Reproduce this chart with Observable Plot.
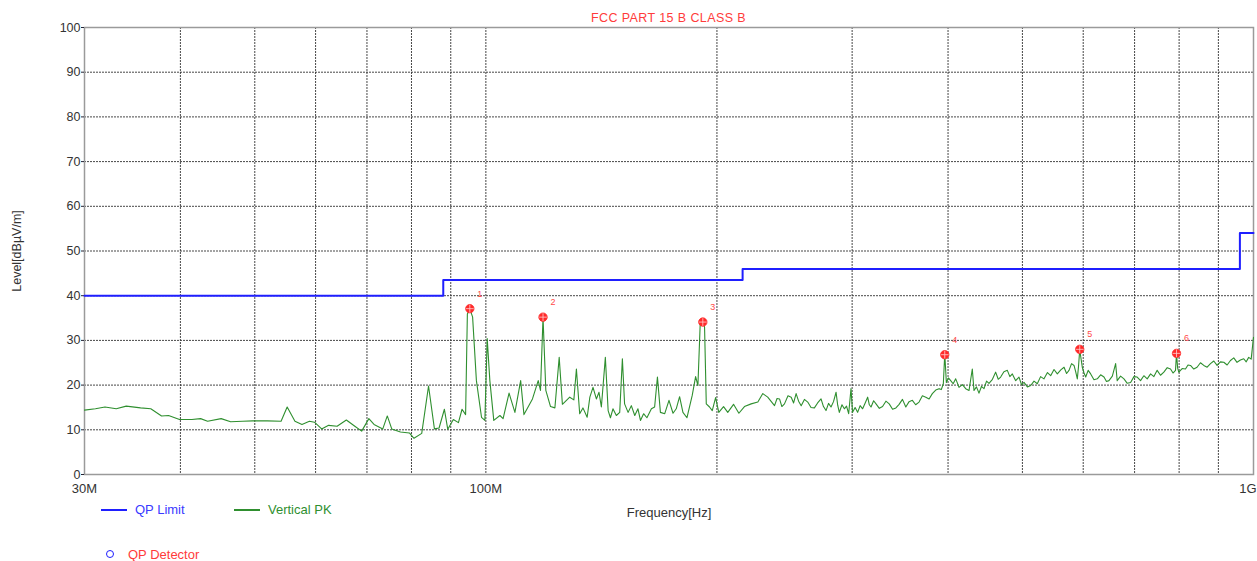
<!DOCTYPE html>
<html>
<head>
<meta charset="utf-8">
<script src="https://cdn.jsdelivr.net/npm/d3@7"></script>
<script src="https://cdn.jsdelivr.net/npm/@observablehq/plot@0.6"></script>
<style>
  body { margin: 0; background: #fff; font-family: "Liberation Sans", Arial, sans-serif; }
  #wrap { position: relative; width: 1257px; height: 561px; overflow: hidden; background: #fff; }
  #wrap svg { position: absolute; left: 0; top: 0; }
  .ov { position: absolute; white-space: nowrap; font-size: 13px; line-height: 1; }
  .lg-line { position: absolute; height: 2px; }
</style>
</head>
<body>
<div id="wrap"></div>
<script>
// ---- data (frequency in MHz, level in dBµV/m) ----
const pkFreq = [
  30.0, 31.0, 31.9, 33.0, 34.0, 35.5, 36.6, 37.8, 38.6, 39.9, 41.4, 42.5, 43.4, 45.2, 46.5, 48.2, 49.7,
  51.9, 54.1, 55.1, 56.4, 57.6, 58.9, 59.8, 61.1, 62.4, 64.0, 65.8, 67.5, 68.9, 70.4, 71.5, 73.4, 74.4,
  75.4, 77.4, 79.5, 80.6, 82.5, 84.2, 85.7, 86.9, 88.3, 89.2, 90.7, 92.1, 93.1, 94.1,
  94.6, 95.3, 96.1, 97.2, 98.7, 99.7, 100.4, 101.2, 102.4, 104.3, 105.3, 107.2, 109.1, 111.0, 112.1,
  113.5, 115.0, 117.0, 117.8, 118.7, 119.7, 121.4, 123.0, 124.6, 125.8, 128.6, 130.2, 131.2, 132.5,
  133.8, 135.5, 136.6, 137.9, 139.3, 140.4, 141.4, 143.1, 144.3, 145.3, 146.4, 147.9, 149.4, 150.6,
  151.6, 153.2, 154.7, 156.3, 157.8, 159.0, 160.5, 162.1, 164.3, 165.9, 167.3, 168.8, 171.0, 173.2,
  175.3, 177.0, 178.8, 180.6, 182.8, 185.7, 187.6, 188.9, 190.2, 191.7, 192.7, 193.7, 195.6, 197.2,
  199.2, 201.1, 204.0, 206.6, 210.2, 213.6, 217.2, 221.6, 226.1, 229.5, 232.9,
  237.7, 239.5, 241.3, 243.0, 244.9, 247.5, 249.9, 251.7, 253.6, 255.5, 257.5, 260.0, 262.6, 265.2,
  267.9, 270.5, 273.3, 275.3, 277.4, 279.5, 281.6, 283.7, 285.9, 287.3, 288.7, 291.0, 293.1, 295.0,
  296.9, 299.0, 300.4, 302.7, 305.0, 307.3, 309.6, 312.0, 314.3, 315.9, 317.5, 320.0, 322.3, 325.5,
  328.7, 332.0, 335.3, 338.7, 342.1,
  345.4, 348.9, 352.4, 355.9, 359.4, 363.0, 366.7, 370.4, 374.2, 377.9, 381.6, 385.5, 389.4, 392.0,
  394.4, 396.1, 398.0, 400.5, 403.2, 406.2, 409.3, 411.3, 413.4, 417.6, 421.8, 426.0, 430.2, 432.4,
  435.6, 438.9, 442.2, 445.6, 449.0, 452.3, 457.0, 461.4, 465.0, 468.4, 473.0, 477.9, 481.5, 485.1,
  490.0, 494.9, 498.6, 502.4, 507.5, 512.6, 517.7, 522.8, 528.0, 533.4, 539.0, 544.2, 549.7, 555.2,
  561.0, 566.5, 570.8, 575.0, 579.4, 583.7, 586.6, 589.5, 591.5, 593.8, 596.0, 598.4, 601.5, 604.5,
  609.0, 613.6, 619.7, 625.9, 632.2, 638.6, 643.4, 648.2, 654.8, 661.3, 664.4, 671.2, 678.0, 684.8,
  691.7, 698.6, 705.5, 712.6, 719.7, 727.0, 734.4, 741.7, 749.0, 756.6, 764.2, 772.0, 779.7, 785.5,
  791.4, 793.8, 796.5, 799.3, 807.3, 815.4, 821.6, 827.8, 836.0, 844.3, 852.9, 861.5, 870.2, 878.9,
  887.7, 896.5, 905.6, 914.7, 924.0, 933.2, 942.5, 951.8, 961.5, 971.1, 978.4, 985.7, 993.0, 1000
];
const pkLevel = [
  14.4, 14.7, 15.1, 14.7, 15.3, 14.9, 14.7, 13.1, 13.2, 12.3, 12.3, 12.5, 11.9, 12.5, 11.8, 11.9, 12.0,
  12.0, 11.9, 15.1, 11.9, 11.2, 11.9, 11.7, 10.2, 11.0, 10.8, 12.2, 10.8, 9.7, 12.5, 11.2, 10.2, 13.1,
  10.2, 9.5, 9.3, 8.1, 9.2, 19.8, 10.2, 10.4, 14.6, 10.1, 12.3, 11.6, 14.6, 13.4,
  35.9, 37.1, 35.2, 21.0, 12.8, 12.1, 30.4, 21.0, 12.1, 13.2, 12.5, 18.2, 13.9, 21.0, 13.4,
  15.1, 16.9, 21.0, 18.8, 35.2, 18.8, 15.2, 14.9, 26.2, 15.7, 17.3, 16.7, 23.6, 13.6,
  14.9, 12.8, 17.3, 19.5, 16.9, 18.4, 15.1, 26.2, 14.3, 12.7, 14.7, 13.2, 13.9, 25.9,
  15.8, 13.9, 15.4, 13.2, 14.7, 12.1, 13.6, 12.7, 14.7, 15.1, 21.8, 13.9, 13.6, 16.6,
  13.7, 14.7, 17.4, 13.9, 12.7, 17.7, 21.9, 19.9, 33.7, 34.1, 33.0, 15.8, 15.1, 14.3,
  17.2, 13.9, 15.2, 13.9, 15.7, 13.7, 15.2, 15.8, 16.2, 18.1, 17.3,
  15.4, 17.0, 16.9, 15.2, 15.8, 17.6, 17.3, 16.0, 18.1, 16.4, 15.4, 16.8, 16.2, 15.0,
  14.9, 16.0, 16.9, 15.2, 14.3, 15.9, 15.1, 16.3, 18.4, 15.5, 13.9, 15.6, 14.7, 15.3,
  13.6, 19.2, 13.9, 15.0, 13.9, 15.4, 14.7, 16.0, 17.3, 15.6, 15.1, 16.5, 15.8, 14.8,
  15.2, 16.4, 15.8, 14.6, 14.9,
  15.7, 16.8, 15.1, 16.3, 16.6, 15.6, 16.2, 17.6, 17.3, 16.9, 18.1, 18.9, 19.2, 19.0,
  20.3, 27.0, 20.6, 21.6, 21.0, 20.3, 21.4, 20.5, 19.5, 20.1, 19.2, 18.8, 23.6, 18.8,
  19.6, 18.2, 19.7, 19.2, 20.9, 20.4, 21.3, 22.9, 21.3, 21.8, 23.0, 23.3, 21.9, 22.5,
  21.0, 21.8, 20.1, 20.6, 19.6, 19.9, 20.9, 20.3, 21.9, 21.4, 22.8, 22.1, 23.5, 22.5,
  23.4, 24.0, 22.6, 23.3, 24.8, 24.4, 23.0, 21.4, 24.0, 27.9, 26.0, 24.0, 22.7, 21.8,
  23.3, 22.5, 21.2, 21.4, 22.3, 21.8, 20.8, 21.0, 22.0, 24.8, 21.0, 22.0, 21.4, 20.4,
  20.6, 21.9, 21.8, 21.0, 22.1, 21.4, 22.5, 21.9, 23.3, 22.2, 22.9, 23.9, 23.6, 22.7,
  23.3, 27.1, 23.8, 22.9, 23.7, 23.6, 24.5, 24.4, 23.6, 24.0, 25.0, 24.4, 24.0, 24.8,
  25.4, 24.4, 25.2, 25.1, 24.5, 25.5, 26.1, 25.1, 25.6, 25.9, 25.2, 26.2, 25.8, 30.7
];

// QP limit (FCC Part 15 B Class B)
const limitFreq  = [30, 88, 88, 216, 216, 960, 960, 1000];
const limitLevel = [40, 40, 43.5, 43.5, 46, 46, 54, 54];

// final measurement markers
const markerFreq  = [95.3, 118.7, 191.7, 396.1, 593.8, 793.8];
const markerLevel = [37.1, 35.2, 34.1, 26.8, 28.0, 27.1];
const markerLabel = ["1", "2", "3", "4", "5", "6"];

// axes / grid
const xGrid = [30, 40, 50, 60, 70, 80, 90, 100, 200, 300, 400, 500, 600, 700, 800, 900, 1000];
const yTicks = [0, 10, 20, 30, 40, 50, 60, 70, 80, 90, 100];
const xTickValues = [30, 100, 1000];
const xTickLabels = ["30M", "100M", "1G"];

// ---- build ----
const pk = pkFreq.map((f, i) => ({f, l: pkLevel[i]}));
const limit = limitFreq.map((f, i) => ({f, l: limitLevel[i]}));
const markers = markerFreq.map((f, i) => ({f, l: markerLevel[i], t: markerLabel[i]}));
const fmtX = (d) => xTickLabels[xTickValues.indexOf(d)];

const chart = Plot.plot({
  width: 1257,
  height: 561,
  marginTop: 27,
  marginBottom: 87,
  marginLeft: 84,
  marginRight: 4,
  x: {type: "log", domain: [30, 1000]},
  y: {domain: [0, 100]},
  style: {fontFamily: "'Liberation Sans', Arial, sans-serif", fontSize: "12px", color: "#333", background: "#fff", overflow: "visible"},
  marks: [
    Plot.ruleX(xGrid, {stroke: "#333", strokeDasharray: "2,1", strokeWidth: 1, strokeOpacity: 0.9}),
    Plot.ruleY(yTicks, {stroke: "#333", strokeDasharray: "2,1", strokeWidth: 1, strokeOpacity: 0.9}),
    Plot.frame({stroke: "#9a9a9a", strokeWidth: 1.5}),
    Plot.axisX(xTickValues.slice(0, 2), {
      tickSize: 0, tickPadding: 9, fontSize: 13, fill: "#333",
      tickFormat: fmtX,
      label: "Frequency[Hz]", labelAnchor: "center", labelArrow: "none", labelOffset: 42
    }),
    Plot.axisX(xTickValues.slice(2), {
      tickSize: 0, tickPadding: 9, fontSize: 13, fill: "#333", textAnchor: "end", dx: 3,
      tickFormat: fmtX, label: null
    }),
    Plot.axisY(yTicks, {
      tickSize: 3, tickPadding: 1, fontSize: 12.5, fill: "#333", stroke: "#223",
      label: "Level[dBµV/m]", labelAnchor: "center", labelArrow: "none", labelOffset: 72
    }),
    Plot.line(pk, {x: "f", y: "l", stroke: "#2f8f2f", strokeWidth: 1.1}),
    Plot.line(limit, {x: "f", y: "l", stroke: "#1f1fff", strokeWidth: 2}),
    Plot.dot(markers, {x: "f", y: "l", r: 4.2, fill: "#ff2a2a", stroke: "#ff2a2a", strokeWidth: 0.8}),
    Plot.dot(markers, {x: "f", y: "l", r: 2.6, symbol: "plus", stroke: "#ffd0d0", strokeWidth: 0.8}),
    Plot.text(markers, {x: "f", y: "l", text: "t", dx: 10, dy: -15, fill: "#ff4a4a", fontSize: 9})
  ]
});

const wrap = document.getElementById("wrap");
wrap.appendChild(chart);

function addDiv(cls, style, html) {
  const d = document.createElement("div");
  d.className = cls;
  d.setAttribute("style", style);
  d.innerHTML = html || "";
  wrap.appendChild(d);
  return d;
}
// title (centered over plot area)
addDiv("ov", "left:84px;width:1169px;text-align:center;top:12px;color:#ff3b3b;font-size:12.5px;letter-spacing:0.4px;", "FCC PART 15 B CLASS B");
// legend
addDiv("lg-line", "left:101px;top:509px;width:26px;background:#1f1fff;");
addDiv("ov", "left:135px;top:503px;color:#3a3aff;", "QP Limit");
addDiv("lg-line", "left:234px;top:509px;width:26px;background:#2f8f2f;");
addDiv("ov", "left:268px;top:503px;color:#2f8f2f;", "Vertical PK");
addDiv("ov", "left:106px;top:550px;width:6px;height:6px;border:1.6px solid #1f1fff;border-radius:50%;");
addDiv("ov", "left:128px;top:548px;color:#ff3b3b;", "QP Detector");
</script>
</body>
</html>
